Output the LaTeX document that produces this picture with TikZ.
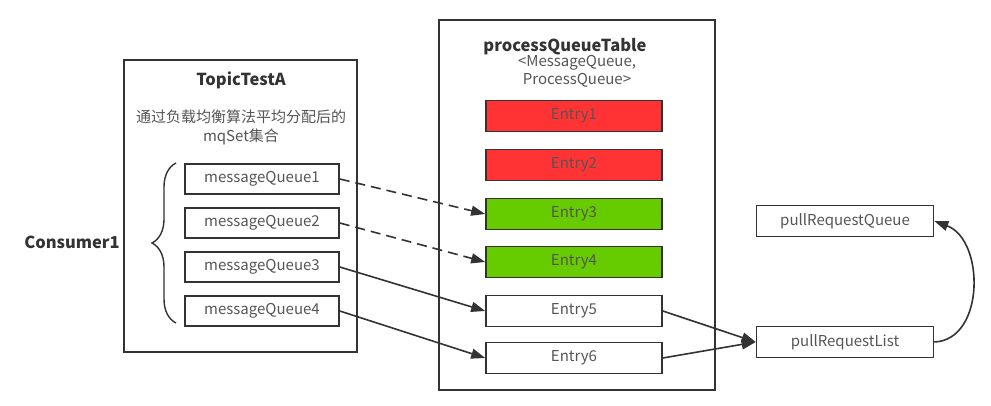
\documentclass[tikz,border=0pt]{standalone}
\usepackage{fontspec}
\setmainfont{Noto Sans CJK SC}
\usetikzlibrary{arrows.meta,decorations.pathreplacing}
\definecolor{edge}{HTML}{333333}
\definecolor{txt}{HTML}{555555}
\definecolor{hot}{HTML}{FF3333}
\definecolor{ok}{HTML}{66CC00}
\tikzset{
  x=1pt,y=-1pt,
  frame/.style={draw=edge,line width=1.6pt},
  boxfont/.style={font=\fontsize{15}{17}\selectfont},
  qbox/.style={draw=edge,line width=1.6pt,minimum width=154pt,minimum height=30pt,inner sep=0pt,text=txt,boxfont},
  ebox/.style={draw=edge,line width=1.6pt,minimum width=176pt,minimum height=31pt,inner sep=0pt,text=txt,boxfont},
  pbox/.style={draw=edge,line width=1.6pt,minimum width=177pt,minimum height=31pt,inner sep=0pt,text=txt,boxfont},
  link/.style={draw=edge,line width=1.6pt,-{Triangle[length=14pt,width=10pt]}},
  lbl/.style={text=txt,font=\fontsize{15}{19}\selectfont,align=center,inner sep=0pt},
  ttl/.style={text=edge,font=\fontsize{16.5}{18}\selectfont\bfseries,inner sep=0pt},
}
\begin{document}
\begin{tikzpicture}
\useasboundingbox (0,0) rectangle (991,405);
\fill[white] (0,0) rectangle (991,405);

% outer frames
\draw[frame] (124,60) rectangle (357,352);
\draw[frame] (439,20) rectangle (715,390);

% left frame labels
\node[ttl] (topic) at (241,80) {TopicTestA};
\node[lbl] (mqset) at (241,127) {通过负载均衡算法平均分配后的\\mqSet集合};
\node[ttl] (consumer) at (72,242) {Consumer1};

% right frame labels
\node[ttl] (pqt) at (565,47) {processQueueTable};
\node[lbl,font=\fontsize{15}{18}\selectfont] (pqtype) at (577,71) {<MessageQueue,\\ProcessQueue>};

% message queues
\node[qbox] (mq1) at (262,179) {messageQueue1};
\node[qbox] (mq2) at (262,223) {messageQueue2};
\node[qbox] (mq3) at (262,267) {messageQueue3};
\node[qbox] (mq4) at (262,311) {messageQueue4};

% brace grouping the queues
\draw[edge,line width=1.4pt,decorate,decoration={brace,amplitude=24pt,aspect=0.5}]
  (176,323) -- (176,163);

% table entries
\node[ebox,fill=hot] (e1) at (574,116) {Entry1};
\node[ebox,fill=hot] (e2) at (574,165) {Entry2};
\node[ebox,fill=ok] (e3) at (574,214) {Entry3};
\node[ebox,fill=ok] (e4) at (574,262) {Entry4};
\node[ebox] (e5) at (574,311) {Entry5};
\node[ebox] (e6) at (574,358) {Entry6};

% pull request structures
\node[pbox] (prq) at (845,221) {pullRequestQueue};
\node[pbox] (prl) at (845,342) {pullRequestList};

% connectors
\draw[link,dash pattern=on 10pt off 6pt] (mq1.east) -- (e3.west);
\draw[link,dash pattern=on 10pt off 6pt] (mq2.east) -- (e4.west);
\draw[link] (mq3.east) -- (e5.west);
\draw[link] (mq4.east) -- (e6.west);
\draw[link] (e5.east) -- (prl.west);
\draw[link] (e6.east) -- (prl.west);
\draw[link] (prl.east) .. controls (985,340) and (985,240) .. (prq.east);
\end{tikzpicture}
\end{document}
